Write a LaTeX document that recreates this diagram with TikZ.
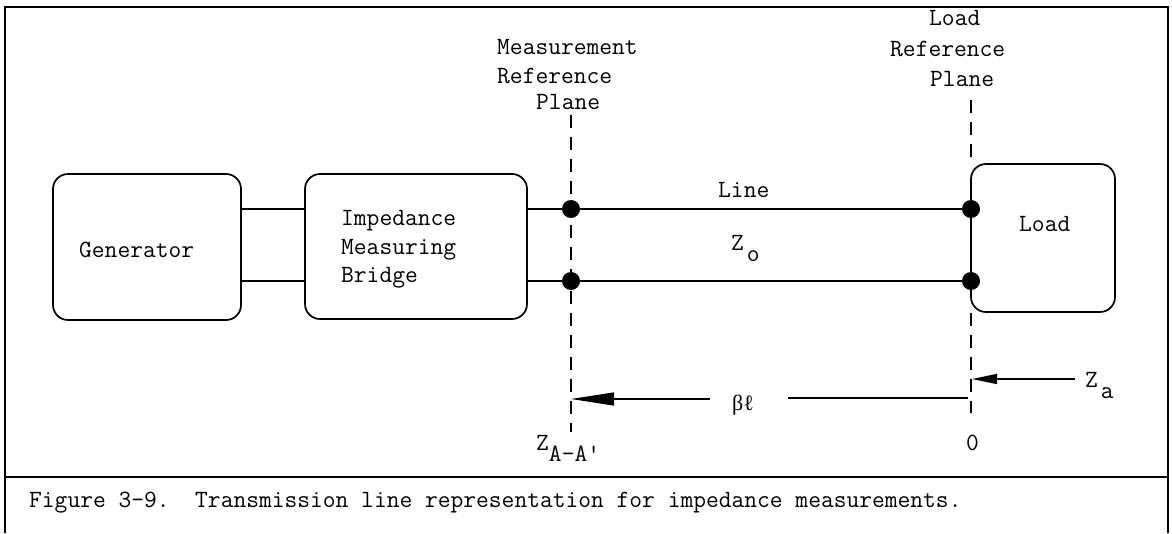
\documentclass[tikz,border=0pt]{standalone}
\usepackage{fontspec}
\newfontfamily\grkfont{Liberation Serif}
\usetikzlibrary{arrows.meta}
\begin{document}
\begin{tikzpicture}[x=1pt,y=-1pt,
  txt/.style={font=\ttfamily\fontsize{24.8pt}{29pt}\selectfont, inner sep=0pt, anchor=base west},
  blk/.style={draw, line width=1.7pt, rounded corners=15pt, inner sep=0pt},
  wire/.style={line width=1.4pt},
  plane/.style={line width=1.5pt, dash pattern=on 13pt off 9pt},
  dot/.style={circle, fill, inner sep=0pt, minimum size=18pt},
  frame/.style={line width=1.5pt},
  bigarr/.style={line width=1.4pt, -{Triangle[length=43pt,width=13pt]}},
  smallarr/.style={line width=1.4pt, -{Triangle[length=25pt,width=10pt]}}]
\useasboundingbox (0,0) rectangle (1172,533);
% frame
\draw[frame] (5,533) -- (5,7) -- (1168,7) -- (1168,533);
\draw[frame] (5,477) -- (1168,477);
% blocks
\node[blk, minimum width=188pt, minimum height=146pt] (gen) at (147,247) {};
\node[blk, minimum width=222pt, minimum height=145pt] (br) at (416,246.5) {};
\node[blk, minimum width=144pt, minimum height=148pt] (load) at (1043,238) {};
% reference planes
\coordinate (mtop) at (571,115);
\coordinate (mbot) at (571,432);
\coordinate (ltop) at (971,100);
\coordinate (lbot) at (971,413);
\draw[plane] (mtop) -- (mbot);
\draw[plane] (ltop) -- (ltop |- load.north);
\draw[plane] (ltop |- load.south) -- (lbot);
% terminals
\node[dot] (m1) at (571,209) {};
\node[dot] (m2) at (571,281) {};
\node[dot] (l1) at (971,209) {};
\node[dot] (l2) at (971,281) {};
% wires
\draw[wire] (gen.east |- m1) -- (br.west |- m1);
\draw[wire] (gen.east |- m2) -- (br.west |- m2);
\draw[wire] (br.east |- m1) -- (m1) -- (l1);
\draw[wire] (br.east |- m2) -- (m2) -- (l2);
% texts
\node[txt] (gt) at (79,257) {Generator};
\node[txt] (b1) at (341,225) {Impedance};
\node[txt] (b2) at (341,254) {Measuring};
\node[txt] (b3) at (341,282) {Bridge};
\node[txt] (lt) at (1019,231) {Load};
\node[txt] (linelbl) at (718,197) {Line};
\node[txt] (zo) at (731,250) {Z\hspace{3pt}\raisebox{-11pt}{o}};
\node[txt] (mp1) at (497,54) {Measurement};
\node[txt] (mp2) at (497,83) {Reference};
\node[txt] (mp3) at (536,109) {Plane};
\node[txt] (lp1) at (929,25) {Load};
\node[txt] (lp2) at (890,56) {Reference};
\node[txt] (lp3) at (930,86) {Plane};
\node[txt] (zaa) at (536,450) {Z\raisebox{-11pt}{A-A\textquotesingle}};
\node[txt] (zero) at (966,450) {0};
\node[txt] (za) at (1085,387) {Z\hspace{3pt}\raisebox{-11pt}{a}};
\node[txt, font=\grkfont\fontsize{22pt}{26pt}\selectfont] (bl) at (732,410) {βℓ};
\node[txt] (cap) at (29,507) {Figure 3-9.\ \ Transmission line representation for impedance measurements.};
% arrows
\coordinate (aL) at (571,399);
\coordinate (aLs) at (710,399);
\coordinate (aRs) at (788,398);
\coordinate (aR) at (968,398);
\draw[bigarr] (aLs) -- (aL);
\draw[wire] (aRs) -- (aR);
\coordinate (zs) at (1075,379);
\coordinate (zt) at (972,379);
\draw[smallarr] (zs) -- (zt);
\end{tikzpicture}
\end{document}
